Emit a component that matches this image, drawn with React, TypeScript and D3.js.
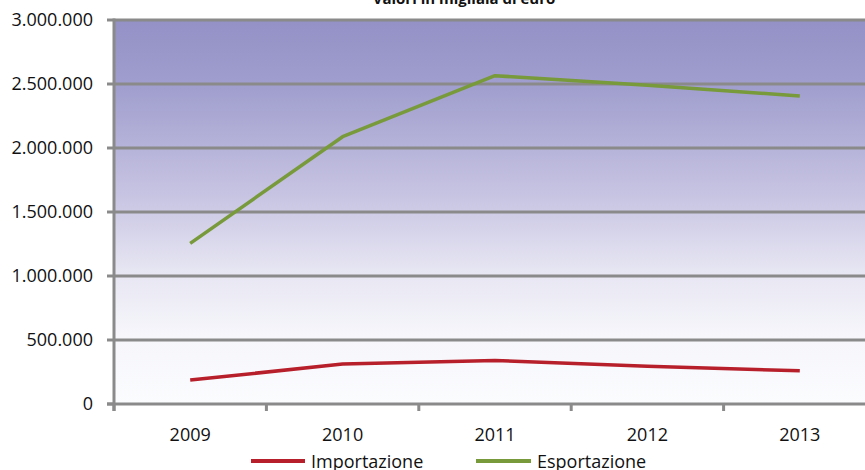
import React from "react";
import * as d3 from "d3";

const years = ["2009", "2010", "2011", "2012", "2013"];
const importazione = [187000, 312000, 340000, 294000, 260000];
const esportazione = [1255000, 2088000, 2565000, 2490000, 2406000];
const yTicks = [0, 500000, 1000000, 1500000, 2000000, 2500000, 3000000];
const seriesNames = ["Importazione", "Esportazione"];
const title = "Valori in migliaia di euro";

const W = 865;
const H = 470;
const left = 114;
const right = 876;
const top = 20;
const bottom = 404;
const FONT = "'Open Sans', 'Noto Sans', sans-serif";
const GRID = "#8a8a8a";
const RED = "#b71f2a";
const GREEN = "#789a3a";

const fmt = (v: number) =>
  v === 0 ? "0" : d3.format(",")(v).replace(/,/g, ".");

export default function App() {
  const x = d3.scaleBand<string>().domain(years).range([left, right]);
  const y = d3.scaleLinear().domain([0, 3000000]).range([bottom, top]);
  const line = d3
    .line<number>()
    .x((_, i) => (x(years[i]) as number) + x.bandwidth() / 2)
    .y((d) => y(d));

  const boundaries = years.map((yr) => x(yr) as number).concat([right]);

  return (
    <svg
      width={W}
      height={H}
      style={{ position: "absolute", left: 0, top: 0, background: "#fff" }}
      fontFamily={FONT}
    >
      <defs>
        <linearGradient id="bg" x1="0" y1="0" x2="0" y2="1">
          <stop offset="0" stopColor="#9391c6" />
          <stop offset="0.18" stopColor="#a19fce" />
          <stop offset="0.45" stopColor="#c6c3e2" />
          <stop offset="0.65" stopColor="#e6e5f2" />
          <stop offset="0.82" stopColor="#f6f6fb" />
          <stop offset="1" stopColor="#fbfcfe" />
        </linearGradient>
      </defs>
      <text
        x={464}
        y={4}
        textAnchor="middle"
        fontSize={15}
        fontWeight="bold"
        fill="#111"
      >
        {title}
      </text>
      <rect
        x={left}
        y={top}
        width={right - left}
        height={bottom - top}
        fill="url(#bg)"
      />
      {yTicks.map((t) => (
        <g key={t}>
          {t > 0 && (
            <line
              x1={left}
              x2={right}
              y1={y(t)}
              y2={y(t)}
              stroke={GRID}
              strokeWidth={3}
            />
          )}
          <line
            x1={left - 7}
            x2={left}
            y1={y(t)}
            y2={y(t)}
            stroke={GRID}
            strokeWidth={3}
          />
          <text
            x={93}
            y={y(t)}
            dy="0.35em"
            textAnchor="end"
            fontSize={18}
            fill="#111"
          >
            {fmt(t)}
          </text>
        </g>
      ))}
      <line
        x1={left}
        x2={left}
        y1={top - 1.5}
        y2={bottom + 7}
        stroke={GRID}
        strokeWidth={3}
      />
      <line
        x1={left - 7}
        x2={right}
        y1={bottom}
        y2={bottom}
        stroke={GRID}
        strokeWidth={3}
      />
      {boundaries.map((b, i) => (
        <line
          key={i}
          x1={b}
          x2={b}
          y1={bottom}
          y2={bottom + 7}
          stroke={GRID}
          strokeWidth={3}
        />
      ))}
      {years.map((yr) => (
        <text
          key={yr}
          x={(x(yr) as number) + x.bandwidth() / 2}
          y={441}
          textAnchor="middle"
          fontSize={18}
          fill="#111"
        >
          {yr}
        </text>
      ))}
      <path
        d={line(importazione) || ""}
        fill="none"
        stroke={RED}
        strokeWidth={3.5}
        strokeLinejoin="round"
      />
      <path
        d={line(esportazione) || ""}
        fill="none"
        stroke={GREEN}
        strokeWidth={3.5}
        strokeLinejoin="round"
      />
      <line x1={251} x2={305} y1={461} y2={461} stroke={RED} strokeWidth={4} />
      <text x={311} y={468} fontSize={18} fill="#111">
        {seriesNames[0]}
      </text>
      <line x1={476} x2={531} y1={461} y2={461} stroke={GREEN} strokeWidth={4} />
      <text x={537} y={468} fontSize={18} fill="#111">
        {seriesNames[1]}
      </text>
    </svg>
  );
}
